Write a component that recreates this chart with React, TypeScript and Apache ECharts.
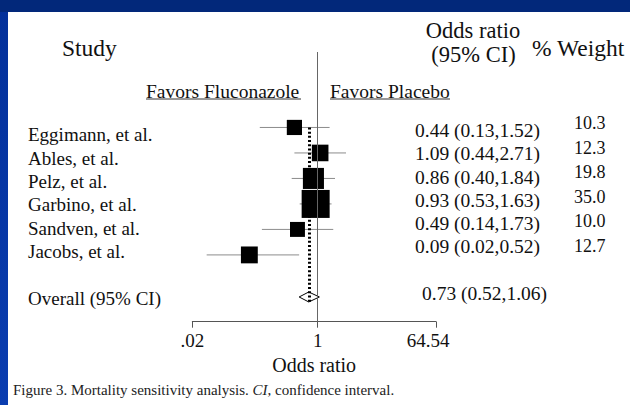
import React, { useEffect, useRef } from 'react';
import * as echarts from 'echarts';

// ---- data ----
const studies = ['Eggimann, et al.', 'Ables, et al.', 'Pelz, et al.', 'Garbino, et al.', 'Sandven, et al.', 'Jacobs, et al.'];
const oddsRatios = [0.44, 1.09, 0.86, 0.93, 0.49, 0.09];
const ciLow = [0.13, 0.44, 0.40, 0.53, 0.14, 0.02];
const ciHigh = [1.52, 2.71, 1.84, 1.63, 1.73, 0.52];
const weights = [10.3, 12.3, 19.8, 35.0, 10.0, 12.7];
const overallLabel = 'Overall (95% CI)';
const overallOR = 0.73;
const overallLow = 0.52;
const overallHigh = 1.06;
const tickValues = [0.01206, 1, 64.54];
const tickLabels = ['.02', '1', '64.54'];
const overallRow = 6.65;

const SERIF = '"Liberation Serif", "Times New Roman", serif';
const INK = '#111';

const fmt = (or: number, lo: number, hi: number) => `${or.toFixed(2)} (${lo.toFixed(2)},${hi.toFixed(2)})`;

export default function App() {
  const ref = useRef<HTMLDivElement>(null);

  useEffect(() => {
    if (!ref.current) return;
    const chart = echarts.init(ref.current, null, { renderer: 'svg' });
    const maxW = Math.max(...weights);
    const studyLabels = [...studies, '', overallLabel];
    const orLabels = [...studies.map((_, i) => fmt(oddsRatios[i], ciLow[i], ciHigh[i])), '', fmt(overallOR, overallLow, overallHigh)];
    const weightLabels = weights.map((w) => w.toFixed(1));

    const textAxis = (gridIndex: number, data: string[], size: number, lastIndent = 0) => ({
      type: 'category',
      gridIndex,
      position: 'right',
      inverse: true,
      data,
      axisLine: { show: false },
      axisTick: { show: false },
      splitLine: { show: false },
      axisLabel: {
        interval: 0,
        margin: 0,
        align: 'left',
        fontSize: size,
        fontFamily: SERIF,
        color: INK,
        formatter: (v: string, idx: number) => (lastIndent && idx === data.length - 1 ? `{o|${v}}` : v),
        rich: { o: { padding: [0, 0, 0, lastIndent], fontSize: size, fontFamily: SERIF, color: INK } },
      },
    });

    const txt = (text: string, x: number, y: number, size: number, align = 'left', extra: any = {}) => ({
      type: 'text',
      x,
      y,
      silent: true,
      style: {
        text,
        fill: INK,
        fontSize: size,
        fontFamily: SERIF,
        align,
        verticalAlign: 'middle',
        textAlign: align,
        textVerticalAlign: 'middle',
        ...extra,
      },
    });

    chart.setOption({
      animation: false,
      backgroundColor: 'transparent',
      grid: [
        { left: 192.3, right: 194, top: 52, bottom: 83.3, outerBoundsMode: 'none' },
        { left: 27, width: 1, top: 123.3, height: 186.4, outerBoundsMode: 'none' },
        { left: 414, width: 1, top: 119.1, height: 185.6, outerBoundsMode: 'none' },
        { left: 573, width: 1, top: 110.7, height: 147.6, outerBoundsMode: 'none' },
      ],
      xAxis: [
        {
          type: 'log',
          gridIndex: 0,
          logBase: 10,
          min: tickValues[0],
          max: tickValues[tickValues.length - 1],
          axisLine: { show: true, onZero: false, lineStyle: { color: '#555', width: 1 } },
          axisTick: { show: true, customValues: tickValues, length: 6, lineStyle: { color: '#555', width: 1 } },
          axisLabel: {
            customValues: tickValues,
            margin: 9,
            fontSize: 19,
            fontFamily: SERIF,
            color: INK,
            formatter: (v: number) => {
              let best = 0;
              tickValues.forEach((t, i) => {
                if (Math.abs(Math.log(t) - Math.log(v)) < Math.abs(Math.log(tickValues[best]) - Math.log(v))) best = i;
              });
              return best === tickValues.length - 1 ? `{r|${tickLabels[best]}}` : tickLabels[best];
            },
            rich: { r: { padding: [0, 16, 0, 0], fontSize: 19, fontFamily: SERIF, color: INK } },
          },
          splitLine: { show: false },
          minorTick: { show: false },
          name: 'Odds ratio',
          nameLocation: 'middle',
          nameGap: 31,
          nameTextStyle: { fontSize: 20, fontFamily: SERIF, color: INK },
        },
        { type: 'value', gridIndex: 1, show: false },
        { type: 'value', gridIndex: 2, show: false },
        { type: 'value', gridIndex: 3, show: false },
      ],
      yAxis: [
        { type: 'value', gridIndex: 0, inverse: true, min: -2.96, max: 7.62, show: false },
        textAxis(1, studyLabels, 19),
        textAxis(2, orLabels, 19.5, 7),
        textAxis(3, weightLabels, 18),
      ],
      series: [
        {
          type: 'custom',
          name: 'ci',
          xAxisIndex: 0,
          yAxisIndex: 0,
          clip: false,
          z: 2,
          data: studies.map((_, i) => [oddsRatios[i], i, ciLow[i], ciHigh[i]]),
          encode: { x: [0, 2, 3], y: 1 },
          renderItem: (params: any, api: any) => {
            const y = api.value(1);
            const a = api.coord([api.value(2), y]);
            const b = api.coord([api.value(3), y]);
            return {
              type: 'line',
              shape: { x1: a[0], y1: a[1], x2: b[0], y2: b[1] },
              style: { stroke: '#8c8c8c', lineWidth: 1 },
            };
          },
          markLine: {
            silent: true,
            symbol: ['none', 'none'],
            label: { show: false },
            lineStyle: { color: '#666', width: 1, type: 'solid' },
            data: [{ xAxis: 1 }],
          },
        },
        {
          type: 'scatter',
          name: 'or',
          xAxisIndex: 0,
          yAxisIndex: 0,
          z: 4,
          symbol: 'rect',
          symbolSize: (v: number[]) => 28 * Math.sqrt(v[2] / maxW),
          itemStyle: { color: '#000', opacity: 1 },
          data: studies.map((_, i) => [oddsRatios[i], i, weights[i]]),
        },
        {
          type: 'custom',
          name: 'overall',
          xAxisIndex: 0,
          yAxisIndex: 0,
          clip: false,
          z: 3,
          data: [[overallOR, overallRow, overallLow, overallHigh]],
          encode: { x: [0, 2, 3], y: 1 },
          renderItem: (params: any, api: any) => {
            const y = api.value(1);
            const pl = api.coord([api.value(2), y]);
            const pm = api.coord([api.value(0), y]);
            const ph = api.coord([api.value(3), y]);
            const h = 5;
            return {
              type: 'polygon',
              shape: { points: [[pl[0], pl[1]], [pm[0], pm[1] - h], [ph[0], ph[1]], [pm[0], pm[1] + h]] },
              style: { fill: '#fff', stroke: '#000', lineWidth: 1 },
            };
          },
          markLine: {
            silent: true,
            symbol: ['none', 'none'],
            label: { show: false },
            z: 5,
            lineStyle: { color: '#000', width: 3, type: [2, 2.2] },
            data: [[{ coord: [overallOR, 0] }, { coord: [overallOR, overallRow + 0.23] }]],
          },
        },
      ],
      graphic: [
        txt('Study', 62, 48, 23.5),
        txt('Odds ratio', 473, 30.5, 22.5, 'center'),
        txt('(95% CI)', 473.5, 54, 22.5, 'center'),
        txt('% Weight', 532, 48, 23.5),
        txt('Favors Fluconazole', 146, 91, 19.5),
        txt('Favors Placebo', 330, 91, 19.5),
        { type: 'line', silent: true, shape: { x1: 146, y1: 99, x2: 301, y2: 99 }, style: { stroke: '#333', lineWidth: 1 } },
        { type: 'line', silent: true, shape: { x1: 330, y1: 99, x2: 450, y2: 99 }, style: { stroke: '#333', lineWidth: 1 } },
        txt('Figure 3. Mortality sensitivity analysis. {i|CI}, confidence interval.', 13, 390, 15, 'left', {
          fill: '#222',
          rich: { i: { fontStyle: 'italic', fontSize: 15, fontFamily: SERIF, fill: '#222' } },
        }),
      ],
    });

    return () => chart.dispose();
  }, []);

  return (
    <div style={{ position: 'fixed', left: 0, top: 0, width: 630, height: 405, overflow: 'hidden', background: 'linear-gradient(180deg, #03309a 0%, #0a3db0 100%)' }}>
      <div style={{ position: 'absolute', left: 0, top: 0, width: 630, height: 12, background: '#02287a' }} />
      <div style={{ position: 'absolute', left: 8, top: 12, width: 622, height: 393, background: '#ffffff' }} />
      <div ref={ref} style={{ position: 'absolute', left: 0, top: 0, width: 630, height: 405 }} />
    </div>
  );
}
